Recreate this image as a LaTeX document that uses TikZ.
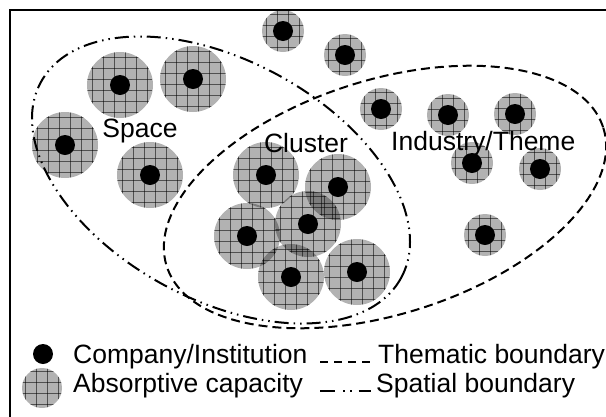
\documentclass[tikz,border=0pt]{standalone}
\usepackage{fontspec}
\setmainfont{Liberation Sans}
\begin{document}
\begin{tikzpicture}[x=1pt,y=-1pt,
  font=\fontsize{26.5}{30}\selectfont,
  gridline/.style={draw=black, line width=0.55pt, draw opacity=0.55},
  absorb/.style={circle, inner sep=0pt, minimum size=#1, fill=black, fill opacity=0.3, draw=none,
    path picture={\foreach \k in {-3,...,3}{
      \draw[gridline] ([xshift=\k*11pt+5.5pt]path picture bounding box.north) -- ([xshift=\k*11pt+5.5pt]path picture bounding box.south);
      \draw[gridline] ([yshift=\k*11pt+5.5pt]path picture bounding box.west) -- ([yshift=\k*11pt+5.5pt]path picture bounding box.east);}}},
  dot/.style={circle, inner sep=0pt, minimum size=20pt, fill=black},
  lbl/.style={inner sep=0pt, anchor=base, text=black},
  thematic/.style={line width=2pt, dash pattern=on 9pt off 5pt},
  spatial/.style={line width=2pt, dash pattern=on 14pt off 5pt on 1.5pt off 5pt on 1.5pt off 5pt},
  frameline/.style={line width=2pt}
]
\useasboundingbox (0,0) rectangle (606,416);
\fill[white] (0,0) rectangle (606,416);
\draw[frameline] (10,420) -- (10,10) -- (610,10);

% absorptive capacity circles
\foreach \n/\x/\y/\s in {s1/120/85/66, s2/193/79/66, s3/65/145/66, s4/150/175/66,
  c1/266/175/66, c2/338/187/66, c3/247/236/66, c4/308/224/66, c5/291/277/66, c6/357/272/66,
  t1/283/31/42, t2/345/55/42, i1/381/109/42, i2/448/115/42, i3/515/114/42, i4/472/163/42,
  i5/540/169/42, i6/485/235/42}
  \node[absorb=\s] (a\n) at (\x,\y) {};
% companies
\foreach \n/\x/\y in {s1/120/85, s2/193/79, s3/65/145, s4/150/175,
  c1/266/175, c2/338/187, c3/247/236, c4/308/224, c5/291/277, c6/357/272,
  t1/283/31, t2/345/55, i1/381/109, i2/448/115, i3/515/114, i4/472/163,
  i5/540/169, i6/485/235}
  \node[dot] (d\n) at (\x,\y) {};

% boundaries
\draw[thematic, rotate around={17.6:(385,197)}] (385,197) ellipse [x radius=229, y radius=117];
\draw[spatial, rotate around={-28.5:(221,180)}] (221,180) ellipse [x radius=205, y radius=119.5];

% labels
\node[lbl] (space) at (140,137) {Space};
\node[lbl] (cluster) at (306,152) {Cluster};
\node[lbl, anchor=base west] (industry) at (391,150) {Industry/Theme};

% legend
\node[dot] (ldot) at (43,354) {};
\node[absorb=40] (lcap) at (42,388) {};
\node[lbl, anchor=base west] (lcomp) at (73,363) {Company/Institution};
\node[lbl, anchor=base west] (labs) at (73,392) {Absorptive capacity};
\node[lbl, anchor=base west] (lthem) at (378,363) {Thematic boundary};
\node[lbl, anchor=base west] (lspat) at (376,392) {Spatial boundary};
\coordinate (th1) at (320,362);
\coordinate (th2) at (370,362);
\coordinate (sp1) at (320,391);
\coordinate (sp2) at (371,391);
\draw[line width=2pt, dash pattern=on 8pt off 6pt] (th1) -- (th2);
\draw[line width=2pt, dash pattern=on 15pt off 8pt on 1.5pt off 5.5pt on 1.5pt off 7pt on 13pt off 5pt] (sp1) -- (sp2);
\end{tikzpicture}
\end{document}
